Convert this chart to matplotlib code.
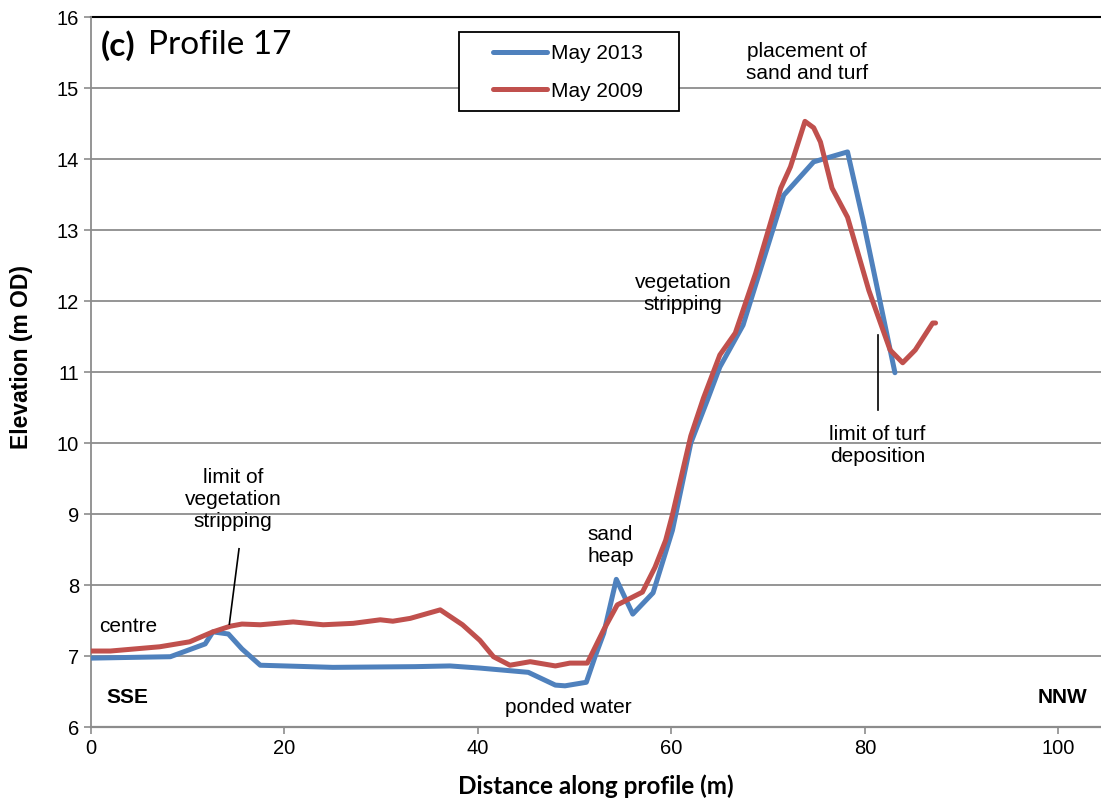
import numpy as np
import matplotlib.pyplot as plt
from matplotlib.patches import Rectangle

# profile data (distance m, elevation m OD)
dist_2013 = [0, 4, 8.2, 11.8, 12.6, 14.2, 15.6, 17.5, 25, 33.5, 37.1, 40.2, 45.2, 48.0,
             49.0, 51.2, 52.1, 53.0, 54.3, 56.0, 58.1, 60.1, 62.0, 63.7, 65.0, 67.4,
             71.6, 74.7, 78.2, 79.8, 83.1]
elev_2013 = [6.97, 6.98, 6.99, 7.17, 7.34, 7.31, 7.10, 6.87, 6.84, 6.85, 6.86, 6.83, 6.77, 6.59,
             6.58, 6.63, 6.99, 7.32, 8.08, 7.59, 7.89, 8.77, 10.0, 10.6, 11.07, 11.66,
             13.49, 13.96, 14.10, 13.14, 10.99]

dist_2009 = [0, 2, 7.1, 10.2, 12.6, 14.4, 15.6, 17.5, 20.9, 24.0, 27.1, 29.9, 31.2, 33.0,
             36.1, 38.4, 40.2, 41.6, 43.3, 45.4, 48.0, 49.5, 51.3, 53.0, 54.4, 57.0,
             58.3, 59.4, 60.1, 62.0, 63.3, 65.0, 66.6, 68.7, 71.3, 72.3, 73.8, 74.7,
             75.4, 76.6, 78.2, 80.4, 82.6, 83.9, 85.2, 87.0, 87.3]
elev_2009 = [7.07, 7.07, 7.13, 7.20, 7.34, 7.42, 7.45, 7.44, 7.48, 7.44, 7.46, 7.51, 7.49, 7.53,
             7.65, 7.44, 7.22, 6.99, 6.87, 6.92, 6.86, 6.90, 6.90, 7.37, 7.72, 7.90,
             8.25, 8.63, 8.99, 10.1, 10.63, 11.24, 11.55, 12.39, 13.59, 13.89, 14.53, 14.44,
             14.24, 13.59, 13.18, 12.15, 11.31, 11.13, 11.31, 11.69, 11.69]

blue = '#4F81BD'
red = '#C0504D'
calibri = ['Lato', 'DejaVu Sans']
arial = ['Liberation Sans', 'DejaVu Sans']
W, H = 1101, 807

fig = plt.figure(figsize=(11.01, 8.07), dpi=100)
ax = fig.add_axes([91 / W, 1 - 727 / H, 1 - 91 / W, (727 - 17) / H])

ax.plot(dist_2013, elev_2013, color=blue, lw=3.6, solid_capstyle='round',
        solid_joinstyle='round', label='May 2013', zorder=3)
ax.plot(dist_2009, elev_2009, color=red, lw=3.6, solid_capstyle='round',
        solid_joinstyle='round', label='May 2009', zorder=4)

ax.set_xlim(0, 104.4)
ax.set_ylim(6, 16)
ax.set_xticks(np.arange(0, 101, 20))
ax.set_yticks(np.arange(6, 17, 1))
ax.grid(axis='y', color='#8c8c8c', lw=1.3)
ax.set_axisbelow(True)
for s in ['top', 'right']:
    ax.spines[s].set_visible(False)
ax.spines['left'].set_color('#8c8c8c')
ax.spines['bottom'].set_color('#8c8c8c')
ax.spines['left'].set_linewidth(1.3)
ax.spines['bottom'].set_linewidth(1.6)
ax.axhline(16, color='black', lw=1.5, zorder=2, clip_on=False)
ax.tick_params(axis='both', colors='#8c8c8c', labelcolor='black', labelsize=14.5, length=5, width=1.2)
for lab in ax.get_xticklabels() + ax.get_yticklabels():
    lab.set_family(arial)

ax.set_xlabel('Distance along profile (m)', fontsize=17.5, fontweight='bold', family=calibri, labelpad=12)
ax.set_ylabel('Elevation (m OD)', fontsize=16.5, fontweight='bold', family=arial)
ax.yaxis.set_label_coords(-0.0574, 0.521)

# legend: box drawn separately so the padding matches the original
box = Rectangle((459 / W, 1 - 111 / H), 220 / W, 79 / H, transform=fig.transFigure,
                facecolor='white', edgecolor='black', lw=1.3, zorder=5, clip_on=False)
ax.add_patch(box)
leg = ax.legend(loc='upper left', bbox_to_anchor=(493 / W, 1 - 44 / H), bbox_transform=fig.transFigure,
                fontsize=15, frameon=False, handlelength=2.6, handletextpad=0.2,
                borderpad=0, labelspacing=0.9, borderaxespad=0)
leg.set_zorder(6)
for t in leg.get_texts():
    t.set_family(arial)

# panel title
ax.text(1.0, 15.6, '(c)', fontsize=24, fontweight='bold', family=calibri, va='center')
ax.text(5.9, 15.6, 'Profile 17', fontsize=24, family=calibri, va='center')

# annotations
ann = dict(fontsize=15, family=arial, ha='center', va='center')
ax.text(74.0, 15.36, 'placement of\nsand and turf', **ann)
ax.text(61.2, 12.1, 'vegetation\nstripping', **ann)
ax.text(81.3, 9.97, 'limit of turf\ndeposition', **ann)
ax.text(14.7, 9.21, 'limit of\nvegetation\nstripping', **ann)
ax.text(3.8, 7.42, 'centre', **ann)
ax.text(53.7, 8.55, 'sand\nheap', **ann)
ax.text(49.3, 6.27, 'ponded water', **ann)
ax.text(3.8, 6.41, 'SSE', fontsize=15, family=arial, fontweight='bold', ha='center', va='center')
ax.text(100.4, 6.41, 'NNW', fontsize=15, family=arial, fontweight='bold', ha='center', va='center')

ax.plot([81.4, 81.4], [11.52, 10.47], color='black', lw=1.2, zorder=5)
ax.plot([15.3, 14.3], [8.51, 7.45], color='black', lw=1.2, zorder=5)

fig.savefig('out.png', dpi=100)
